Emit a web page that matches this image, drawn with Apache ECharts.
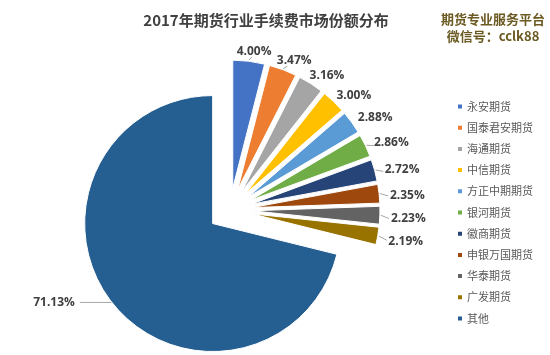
<!DOCTYPE html>
<html>
<head>
<meta charset="utf-8">
<script src="https://cdn.jsdelivr.net/npm/echarts@6/dist/echarts.min.js"></script>
<style>
html,body{margin:0;padding:0;background:#fff;}
#c{width:550px;height:355px;}
</style>
</head>
<body>
<div id="c"></div>
<script>
const categories = ['永安期货','国泰君安期货','海通期货','中信期货','方正中期期货','银河期货','徽商期货','申银万国期货','华泰期货','广发期货','其他'];
const shares = [4.00,3.47,3.16,3.00,2.88,2.86,2.72,2.35,2.23,2.19,71.13];
const colors = ['#4472C4','#ED7D31','#A5A5A5','#FFC000','#5B9BD5','#70AD47','#264478','#9E480E','#636363','#997300','#255E91'];
const titleText = '2017年期货行业手续费市场份额分布';
const watermark = ['期货专业服务平台','微信号：cclk88'];

const CX = 230, CY = 210, R = 128, OFF = 22, GAP = 7, LDX = 2, LDY = 3;
const bigIndex = shares.length - 1;
const noLine = {2:true, 3:true, 4:true};
const total = shares.reduce((a,b)=>a+b,0);
const dirs = [];
{ let cum = 0;
  shares.forEach(v=>{ const t = (cum + v/2)/total*Math.PI*2; dirs.push([Math.sin(t), -Math.cos(t)]); cum += v; });
}
const fmt = p=>p.value.toFixed(2)+'%';
const labelStyle = {fontSize:12, fontWeight:'bold', color:'#404040', fontFamily:'Open Sans'};

const chart = echarts.init(document.getElementById('c'), null, {renderer:'canvas'});

// exploded slices (library select offset)
const sliceData = categories.map((n,i)=>({
  name:n, value:shares[i], selected:true, itemStyle:{color:colors[i]},
  label:{show: i === bigIndex}, labelLine:{show: i === bigIndex}
}));
// transparent twin carrying the small labels
const labelData = categories.map((n,i)=>({
  name:n, value:shares[i],
  label:{show: i !== bigIndex}, labelLine:{show: i !== bigIndex && !noLine[i]}
}));

chart.setOption({
  animation:false,
  title:[{
    text:titleText, left:261, top:8, textAlign:'center',
    textStyle:{fontSize:15, fontWeight:'bold', color:'#404040', fontFamily:'Noto Sans CJK SC'}
  },{
    text:watermark[0]+'\n'+watermark[1], left:488, top:6, textAlign:'center',
    textStyle:{fontSize:13, fontWeight:'bold', color:'#6b5a22', lineHeight:17, fontFamily:'Noto Sans CJK SC'}
  }],
  legend:{
    orient:'vertical', left:451, top:96, itemWidth:6, itemHeight:6, itemGap:10.2,
    icon:'rect',
    textStyle:{fontSize:11, color:'#595959', fontFamily:'Noto Sans CJK SC', padding:[0,0,0,-1]},
    data:categories.map((n,i)=>({name:n, itemStyle:{color:colors[i]}}))
  },
  series:[{
    type:'pie',
    center:[CX,CY], radius:[0,R],
    startAngle:90, clockwise:true,
    selectedMode:'multiple', selectedOffset:OFF,
    select:{itemStyle:{borderColor:'#fff', borderWidth:1}},
    emphasis:{disabled:true},
    itemStyle:{borderColor:'#fff', borderWidth:1},
    label:Object.assign({position:'outside', formatter:fmt}, labelStyle),
    labelLine:{length:0, length2:32, lineStyle:{color:'#a6a6a6', width:1}},
    avoidLabelOverlap:false,
    data:sliceData
  },{
    type:'pie', silent:true,
    center:[CX,CY], radius:[0,R],
    startAngle:90, clockwise:true,
    selectedMode:false,
    emphasis:{disabled:true},
    itemStyle:{color:'rgba(0,0,0,0)', borderWidth:0},
    label:Object.assign({position:'outside', formatter:fmt}, labelStyle),
    labelLine:{length:6, length2:0, lineStyle:{color:'#a6a6a6', width:1}},
    avoidLabelOverlap:false,
    labelLayout:function(p){
      const i = p.dataIndex;
      if (i === bigIndex) return {};
      const d = dirs[i];
      const r0 = R + OFF, r1 = R + OFF + GAP;
      const ax = CX + d[0]*r1 + LDX, ay = CY + d[1]*r1 + LDY;
      const w = p.labelRect.width, h = p.labelRect.height;
      return {
        x: ax + d[0]*(w/2+2), y: ay + d[1]*h/2, align:'center', verticalAlign:'middle',
        labelLinePoints:[[CX + d[0]*(r0+1), CY + d[1]*(r0+1)],[ax,ay],[ax,ay]]
      };
    },
    data:labelData
  }]
});
</script>
</body>
</html>
